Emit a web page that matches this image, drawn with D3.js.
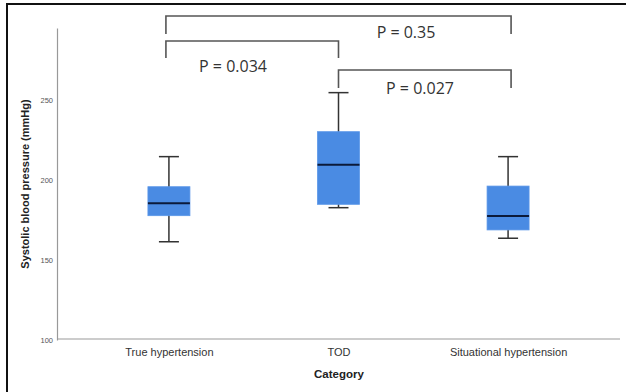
<!DOCTYPE html>
<html>
<head>
<meta charset="utf-8">
<script src="https://cdn.jsdelivr.net/npm/d3@7"></script>
<style>
  body { margin: 0; background: #fff; }
  svg { display: block; }
</style>
</head>
<body>
<div class="graphic"></div>
<script>
// box plot values
var categories = ['True hypertension', 'TOD', 'Situational hypertension']
var whiskerLow = [161.4, 182.7, 163.6]
var q1 = [177.7, 184.8, 168.8]
var medians = [185.4, 209.6, 177.5]
var q3 = [195.8, 230.2, 196.2]
var whiskerHigh = [214.6, 254.6, 214.6]
var yTicks = [100, 150, 200, 250]

// significance brackets: from, to, label
var pFrom = [0, 0, 1]
var pTo = [2, 1, 2]
var pLabels = ['P = 0.35', 'P = 0.034', 'P = 0.027']

var width = 626
var height = 392
// note: "top" is taken by window.top, so use other names
var plotLeft = 57, plotRight = 620, plotTop = 28, plotBottom = 340

var svg = d3.select('.graphic').append('svg')
  .attr('width', width)
  .attr('height', height)

// outer frame (left + top edges only, like the cropped screenshot)
svg.append('line').attr('x1', 7).attr('x2', 7).attr('y1', 3).attr('y2', height)
  .attr('stroke', '#111').attr('stroke-width', 2)
svg.append('line').attr('x1', 7).attr('x2', width).attr('y1', 4).attr('y2', 4)
  .attr('stroke', '#111').attr('stroke-width', 2)

var y = d3.scaleLinear().domain([100, 295]).range([plotBottom, plotTop])
var x = d3.scalePoint().domain(categories).range([plotLeft, plotRight]).padding(0.66)

var data = categories.map(function(c, i) {
  return { cat: c, lo: whiskerLow[i], q1: q1[i], med: medians[i], q3: q3[i], hi: whiskerHigh[i] }
})

// axes
var yAxis = d3.axisLeft(y).tickValues(yTicks).tickSize(0).tickPadding(4)
var yg = svg.append('g').attr('transform', 'translate(' + plotLeft + ',0)').call(yAxis)
yg.select('.domain').attr('stroke', '#999').attr('stroke-width', 1.2)
yg.selectAll('text').attr('font-family', 'Liberation Sans, Arial, sans-serif')
  .attr('font-size', 7.5).attr('fill', '#555')

var xAxis = d3.axisBottom(x).tickSize(0).tickPadding(9)
var xg = svg.append('g').attr('transform', 'translate(0,' + (plotBottom - 1) + ')').call(xAxis)
xg.select('.domain').attr('stroke', '#999').attr('stroke-width', 1.2)
  .attr('d', 'M' + plotLeft + ',0H' + plotRight)
xg.selectAll('text').attr('font-family', 'Liberation Sans, Arial, sans-serif')
  .attr('font-size', 11).attr('fill', '#333')

svg.append('text')
  .attr('x', 339).attr('y', 378)
  .attr('text-anchor', 'middle')
  .attr('font-family', 'Liberation Sans, Arial, sans-serif')
  .attr('font-weight', 'bold').attr('font-size', 11.5).attr('fill', '#222')
  .text('Category')

svg.append('text')
  .attr('transform', 'translate(29,184) rotate(-90)')
  .attr('text-anchor', 'middle')
  .attr('font-family', 'Liberation Sans, Arial, sans-serif')
  .attr('font-weight', 'bold').attr('font-size', 11).attr('fill', '#222')
  .text('Systolic blood pressure (mmHg)')

// boxes
var boxW = 42, capW = 20
var item = svg.selectAll('.item').data(data).enter().append('g')
  .classed('item', true)
  .attr('transform', function(d) { return 'translate(' + x(d.cat) + ',0)' })

item.append('line').attr('x1', 0).attr('x2', 0)
  .attr('y1', function(d) { return y(d.hi) }).attr('y2', function(d) { return y(d.lo) })
  .attr('stroke', '#333').attr('stroke-width', 1.5)
item.append('line').attr('x1', -capW / 2).attr('x2', capW / 2)
  .attr('y1', function(d) { return y(d.hi) }).attr('y2', function(d) { return y(d.hi) })
  .attr('stroke', '#333').attr('stroke-width', 1.5)
item.append('line').attr('x1', -capW / 2).attr('x2', capW / 2)
  .attr('y1', function(d) { return y(d.lo) }).attr('y2', function(d) { return y(d.lo) })
  .attr('stroke', '#333').attr('stroke-width', 1.5)
item.append('rect')
  .attr('x', -boxW / 2).attr('width', boxW)
  .attr('y', function(d) { return y(d.q3) })
  .attr('height', function(d) { return y(d.q1) - y(d.q3) })
  .attr('fill', '#4a8be3').attr('stroke', '#5b97e8').attr('stroke-width', 0.8)
item.append('line').attr('x1', -boxW / 2).attr('x2', boxW / 2)
  .attr('y1', function(d) { return y(d.med) }).attr('y2', function(d) { return y(d.med) })
  .attr('stroke', '#0b1a3a').attr('stroke-width', 2)

// brackets
var bracketTop = [16, 41, 70]
var bracketLeg = [18, 17, 18]
var labelX = [406, 233, 420]
var labelY = [38, 72, 94]
var legShift = [-3, 0, 3]   // legs sit a little outside the outer boxes
function legX(i) { return x(categories[i]) + legShift[i] }

var brackets = pLabels.map(function(l, i) {
  return { x1: legX(pFrom[i]), x2: legX(pTo[i]), yTop: bracketTop[i], leg: bracketLeg[i], label: l, lx: labelX[i], ly: labelY[i] }
})
var br = svg.selectAll('.bracket').data(brackets).enter().append('g').classed('bracket', true)
br.append('path')
  .attr('d', function(d) {
    return 'M' + d.x1 + ',' + (d.yTop + d.leg) + 'V' + d.yTop + 'H' + d.x2 + 'V' + (d.yTop + d.leg)
  })
  .attr('fill', 'none').attr('stroke', '#555').attr('stroke-width', 1.6)
br.append('text')
  .attr('x', function(d) { return d.lx }).attr('y', function(d) { return d.ly })
  .attr('text-anchor', 'middle')
  .attr('font-family', 'Open Sans, sans-serif').attr('font-size', 16).attr('fill', '#333')
  .text(function(d) { return d.label })
</script>
</body>
</html>
